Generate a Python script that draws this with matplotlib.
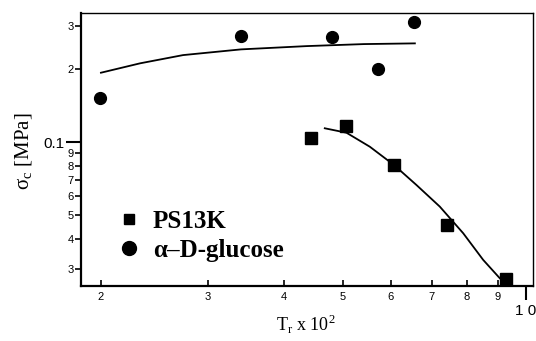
import numpy as np
import matplotlib
matplotlib.use("Agg")
import matplotlib.pyplot as plt
from matplotlib.ticker import FixedLocator, FixedFormatter
from matplotlib.lines import Line2D

# measured points
ps_x = [4.44, 5.06, 6.07, 7.41, 9.27]
ps_y = [0.104, 0.116, 0.0804, 0.0455, 0.0272]
glu_x = [1.99, 3.40, 4.80, 5.71, 6.55]
glu_y = [0.152, 0.274, 0.270, 0.200, 0.312]

# fitted curves
ps_fit_x = [4.67, 5.07, 5.54, 6.07, 6.61, 7.22, 7.89, 8.51, 9.06, 9.23]
ps_fit_y = [0.1139, 0.1092, 0.0956, 0.0804, 0.0665, 0.0542, 0.0421, 0.0327, 0.0275, 0.0266]
glu_fit_x = [2.0, 2.32, 2.73, 3.40, 4.36, 5.42, 6.57]
glu_fit_y = [0.1929, 0.2109, 0.228, 0.2407, 0.2483, 0.2531, 0.2548]

x_minor = [2, 3, 4, 5, 6, 7, 8, 9]
x_minor_labels = ["2", "3", "4", "5", "6", "7", "8", "9"]
y_minor = [0.03, 0.04, 0.05, 0.06, 0.07, 0.08, 0.09, 0.2, 0.3]
y_minor_labels = ["3", "4", "5", "6", "7", "8", "9", "2", "3"]

serif = "Liberation Serif"
sans = "Liberation Sans"

fig = plt.figure(figsize=(5.36, 3.41), dpi=100)
ax = fig.add_axes([0.151, 0.161, 0.843, 0.801])

ax.plot(glu_fit_x, glu_fit_y, color="black", lw=1.3)
ax.plot(ps_fit_x, ps_fit_y, color="black", lw=1.3)
ax.plot(ps_x, ps_y, "s", color="black", ms=8)
ax.plot(glu_x, glu_y, "o", color="black", ms=8.5)

ax.set_xscale("log")
ax.set_yscale("log")
ax.set_xlim(1.854, 10.27)
ax.set_ylim(0.0255, 0.34)

ax.xaxis.set_major_locator(FixedLocator([10]))
ax.xaxis.set_major_formatter(FixedFormatter(["1 0"]))
ax.xaxis.set_minor_locator(FixedLocator(x_minor))
ax.xaxis.set_minor_formatter(FixedFormatter(x_minor_labels))
ax.yaxis.set_major_locator(FixedLocator([0.1]))
ax.yaxis.set_major_formatter(FixedFormatter(["0.1"]))
ax.yaxis.set_minor_locator(FixedLocator(y_minor))
ax.yaxis.set_minor_formatter(FixedFormatter(y_minor_labels))

ax.tick_params(axis="x", which="minor", direction="in", length=4, width=1.2,
               pad=4, labelsize=8)
ax.tick_params(axis="x", which="major", direction="out", length=10, width=1.5,
               pad=3, labelsize=11)
ax.tick_params(axis="y", which="minor", direction="out", length=4, width=1.2,
               pad=1, labelsize=8)
ax.tick_params(axis="y", which="major", direction="out", length=11, width=1.5,
               pad=1, labelsize=11)
for lab in ax.get_xticklabels(which="both") + ax.get_yticklabels(which="both"):
    lab.set_fontfamily(sans)

for s in ax.spines.values():
    s.set_linewidth(1.6)
ax.spines["top"].set_linewidth(1.0)
ax.spines["right"].set_linewidth(1.0)

# axis titles placed by hand (the long "10" tick pushes the default one off)
fig.text(306 / 536, 1 - 331 / 341, r"T$_\mathregular{r}$ x 10$^\mathregular{2}$",
         family=serif, fontsize=13, ha="center", va="baseline")
fig.text(24 / 536, 1 - 151 / 341, r"σ$_\mathregular{c}$ [MPa]", family=serif,
         fontsize=15, rotation=90, ha="center", va="center")

handles = [Line2D([], [], marker="s", ls="none", color="black", ms=7),
           Line2D([], [], marker="o", ls="none", color="black", ms=10)]
ax.legend(handles, ["PS13K", "α–D-glucose"], loc="lower left",
          bbox_to_anchor=(0.035, 0.005), frameon=False, handlelength=0.8,
          handletextpad=0.55, labelspacing=0.25,
          prop={"family": serif, "weight": "bold", "size": 18})

fig.savefig("out.png", dpi=100)
